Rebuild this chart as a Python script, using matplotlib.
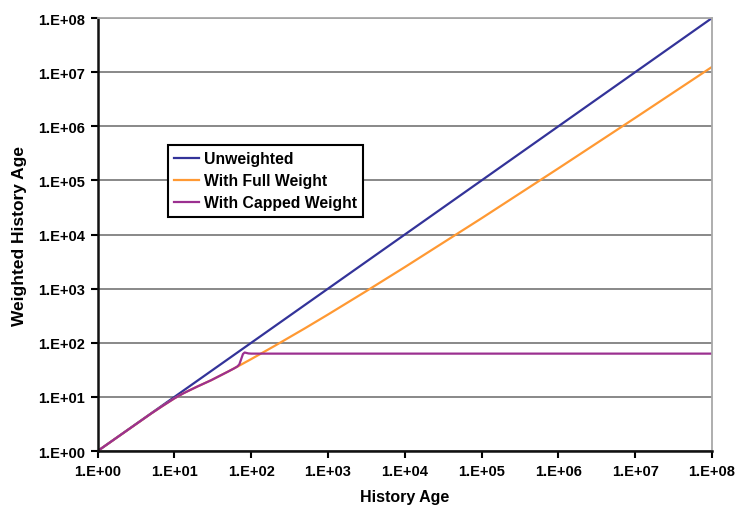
import math

import matplotlib.pyplot as plt
import matplotlib.ticker as mticker

plt.rcParams['font.family'] = ['Liberation Sans', 'DejaVu Sans']
plt.rcParams['font.weight'] = 'bold'

# history age values
x_unweighted = [1, 1e1, 1e2, 1e3, 1e4, 1e5, 1e6, 1e7, 1e8]
y_unweighted = [1, 1e1, 1e2, 1e3, 1e4, 1e5, 1e6, 1e7, 1e8]

x_full = [1, 5, 7, 10, 13, 16, 20, 30, 50, 70, 100, 200, 500, 1e3, 3e3, 1e4, 1e5, 1e6, 1e7, 1e8]
y_full = [1, 4.95, 6.8, 9.4, 11.6, 13.4, 15.6, 20.3, 29.4, 37.9, 50, 87, 185, 333, 863, 2500, 2.0e4, 1.67e5, 1.43e6, 1.25e7]

x_capped = [1, 5, 7, 10, 13, 16, 20, 30, 50, 60, 66, 70, 74, 78, 82, 86, 92, 100, 1e3, 1e8]
y_capped = [1, 4.95, 6.8, 9.4, 11.6, 13.4, 15.6, 20.3, 29.4, 33.7, 36.5, 40, 50, 62, 66, 65, 63.5, 63, 63, 63]

fig = plt.figure(figsize=(7.36, 5.10), dpi=100)
ax = fig.add_axes([0.1327, 0.1137, 0.8347, 0.849])

ax.plot(x_unweighted, y_unweighted, color='#333399', lw=1.6, label='Unweighted')
ax.plot(x_full, y_full, color='#FF9933', lw=1.6, label='With Full Weight')
ax.plot(x_capped, y_capped, color='#9B3090', lw=1.6, label='With Capped Weight')

ax.set_xscale('log')
ax.set_yscale('log')
ax.set_xlim(1, 1e8)
ax.set_ylim(1, 1e8)

decades = [10.0 ** i for i in range(9)]
fmt = mticker.FuncFormatter(lambda v, p: '1.E+%02d' % round(math.log10(v)))
ax.xaxis.set_major_locator(mticker.FixedLocator(decades))
ax.yaxis.set_major_locator(mticker.FixedLocator(decades))
ax.xaxis.set_minor_locator(mticker.NullLocator())
ax.yaxis.set_minor_locator(mticker.NullLocator())
ax.xaxis.set_major_formatter(fmt)
ax.yaxis.set_major_formatter(fmt)

ax.yaxis.grid(True, color='#7f7f7f', lw=1.3)
ax.set_axisbelow(True)
ax.tick_params(direction='out', length=5, width=1.5, labelsize=10.5, pad=4)
for s in ['left', 'bottom']:
    ax.spines[s].set_linewidth(1.8)
    ax.spines[s].set_color('#111111')
for s in ['top', 'right']:
    ax.spines[s].set_linewidth(1.3)
    ax.spines[s].set_color('#a8a8a8')

ax.set_xlabel('History Age', fontsize=11.5, fontweight='bold', labelpad=8)
ax.set_ylabel('Weighted History Age', fontsize=12.5, fontweight='bold', labelpad=8)

leg = ax.legend(loc='upper left', bbox_to_anchor=(0.114, 0.707), fontsize=11.3,
                frameon=True, fancybox=False, handlelength=1.6, handletextpad=0.3,
                borderpad=0.4, labelspacing=0.45, borderaxespad=0)
leg.get_frame().set_edgecolor('black')
leg.get_frame().set_linewidth(1.5)
leg.get_frame().set_alpha(1)

fig.savefig('out.png', dpi=100)
